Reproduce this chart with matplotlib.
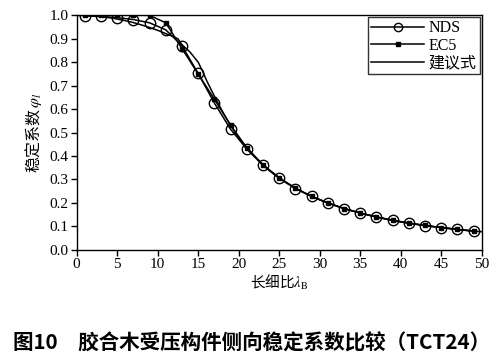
import matplotlib
matplotlib.use("Agg")
import matplotlib.pyplot as plt

plt.rcParams['font.family'] = ['Liberation Serif', 'Noto Sans CJK SC', 'DejaVu Sans']
plt.rcParams['mathtext.fontset'] = 'stix'

# Data
lam_pts = [1, 3, 5, 7, 9, 11, 13, 15, 17, 19, 21, 23, 25, 27, 29, 31, 33, 35, 37, 39, 41, 43, 45, 47, 49]
nds = [0.998, 0.995, 0.99, 0.982, 0.968, 0.938, 0.870, 0.752, 0.626, 0.514, 0.430, 0.360, 0.305,
       0.261, 0.228, 0.200, 0.176, 0.157, 0.140, 0.125, 0.113, 0.103, 0.095, 0.087, 0.080]
ec5 = [1.0, 1.0, 1.0, 1.0, 1.0, 0.968, 0.858, 0.750, 0.642, 0.532, 0.435, 0.363, 0.307,
       0.263, 0.228, 0.200, 0.176, 0.157, 0.140, 0.126, 0.114, 0.104, 0.095, 0.087, 0.080]

lam_line = [0, 1, 2, 3, 4, 5, 6, 7, 8, 9, 10, 11, 12, 12.5, 13, 14, 15, 15.5, 16, 17, 18, 19, 20,
            21, 22, 23, 24, 25, 26, 27, 28, 29, 30, 32, 34, 36, 38, 40, 42, 44, 46, 48, 50]
prop = [1.0, 0.999, 0.997, 0.994, 0.99, 0.984, 0.977, 0.969, 0.959, 0.948, 0.936, 0.922, 0.908,
        0.900, 0.875, 0.843, 0.800, 0.765, 0.725, 0.655, 0.590, 0.530, 0.478, 0.435, 0.397,
        0.363, 0.333, 0.307, 0.284, 0.263, 0.245, 0.228, 0.213, 0.1875, 0.166, 0.148, 0.133,
        0.120, 0.109, 0.099, 0.091, 0.083, 0.077]

xticks = [0, 5, 10, 15, 20, 25, 30, 35, 40, 45, 50]
yticks = [0.0, 0.1, 0.2, 0.3, 0.4, 0.5, 0.6, 0.7, 0.8, 0.9, 1.0]

fig = plt.figure(figsize=(5.01, 3.61), dpi=100)
ax = fig.add_axes([0.153, 0.308, 0.8085, 0.6496])

ax.plot(lam_pts, nds, color='black', lw=1.1, marker='o', ms=7.5, mfc='none', mec='black',
        mew=1.0, label='NDS')
ax.plot(lam_pts, ec5, color='black', lw=1.1, marker='s', ms=3.5, mfc='black', mec='black',
        label='EC5')
ax.plot(lam_line, prop, color='black', lw=1.1, label='建议式')

ax.set_xlim(0, 50)
ax.set_ylim(0, 1.0)
ax.set_xticks(xticks)
ax.set_yticks(yticks)
ax.set_yticklabels([f'{v:.1f}' for v in yticks])
ax.tick_params(direction='out', length=4, width=1, labelsize=11, top=False, right=False, pad=2)
for s in ax.spines.values():
    s.set_linewidth(1.0)

ax.set_xlabel('长细比$\\lambda_{\\rm B}$', fontsize=10.5, family=['Noto Sans CJK SC', 'DejaVu Sans'], labelpad=1)
ax.set_ylabel('稳定系数$\\,\\varphi_l$', fontsize=11.5, family=['Noto Sans CJK SC', 'DejaVu Sans'], labelpad=4)

leg = ax.legend(loc='upper right', fontsize=11, frameon=True, fancybox=False, edgecolor='black',
                handlelength=3.3, handletextpad=0.3, borderpad=0.2, labelspacing=0.1,
                borderaxespad=0.1, markerscale=0.8,
                prop={'family': ['Liberation Serif', 'Noto Sans CJK SC'], 'size': 11.5})
leg.get_frame().set_linewidth(1.0)

fig.text(0.503, 0.050, '图10　胶合木受压构件侧向稳定系数比较（TCT24）', ha='center', va='center',
         fontsize=14.8, fontweight='bold', family=['Noto Sans CJK SC', 'DejaVu Sans'])

fig.savefig('out.png', dpi=100)
